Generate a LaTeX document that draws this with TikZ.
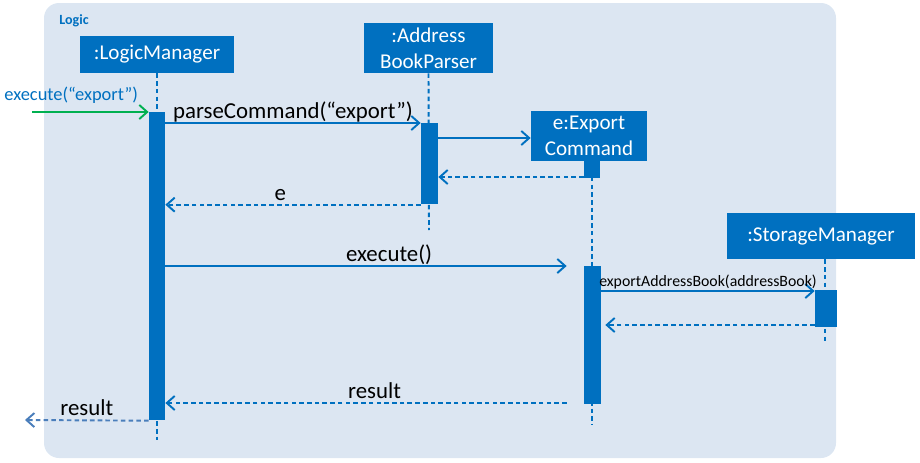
\documentclass[tikz,border=0pt]{standalone}
\usepackage{fontspec}
\setmainfont{Carlito}
\usetikzlibrary{arrows.meta}
\definecolor{umlblue}{HTML}{0070C0}
\definecolor{panel}{HTML}{DCE6F2}
\definecolor{foundgreen}{HTML}{00B050}
\definecolor{outblue}{HTML}{4A7EBB}
\def\upx{0.02cm}% one pixel of the reference
\tikzset{
	obj/.style={fill=umlblue,text=white,inner sep=0pt,align=center,font=\fontsize{12}{15}\selectfont},
	actbar/.style={fill=umlblue,inner sep=0pt,anchor=north},
	life/.style={umlblue,line width=1.1pt,dash pattern=on 2.6pt off 1.8pt},
	call/.style={umlblue,line width=1.1pt,-{Straight Barb[length=4.5pt,width=8pt]}},
	ret/.style={call,dash pattern=on 2.6pt off 1.8pt},
	msg/.style={midway,anchor=base,yshift=2.6pt,inner sep=0pt,text=black,font=\fontsize{13}{15}\selectfont}
}
\begin{document}
\begin{tikzpicture}[x=\upx,y=-\upx]
	\useasboundingbox (0,0) rectangle (920,463);
	\fill[panel,rounded corners=15*\upx] (44,3) rectangle (836,458);
	\node[anchor=west,inner sep=0pt,text=umlblue,font=\bfseries\fontsize{8}{10}\selectfont] (frameLbl) at (59,21) {Logic};
	% objects
	\node[obj,minimum width=154*\upx,minimum height=37*\upx] (lm) at (157,54.5) {:LogicManager};
	\node[obj,minimum width=129*\upx,minimum height=50*\upx] (bp) at (428.5,48) {:Address\\BookParser};
	\node[obj,minimum width=116*\upx,minimum height=50*\upx] (ec) at (589,136) {e:Export\\Command};
	\node[obj,minimum width=188*\upx,minimum height=46*\upx] (sm) at (821,236) {:StorageManager};
	% lifelines
	\coordinate (lmEnd) at (157,440);
	\coordinate (bpEnd) at (429,230);
	\coordinate (ecEnd) at (592,425);
	\coordinate (smEnd) at (825,343);
	\draw[life] (lm.south) -- (lmEnd);
	\draw[life] (bp.south) -- (bpEnd);
	\draw[life] (ec.south -| ecEnd) -- (ecEnd);
	\draw[life] (sm.south -| smEnd) -- (smEnd);
	% activations
	\node[actbar,minimum width=16*\upx,minimum height=308*\upx] (lmAct) at (157,112) {};
	\node[actbar,minimum width=17*\upx,minimum height=81*\upx] (bpAct) at (429.5,123) {};
	\node[actbar,minimum width=16*\upx,minimum height=17*\upx] (ecNew) at (592,161) {};
	\node[actbar,minimum width=17*\upx,minimum height=138*\upx] (ecAct) at (592.5,266) {};
	\node[actbar,minimum width=22*\upx,minimum height=37*\upx] (smAct) at (826,290) {};
	% messages
	\coordinate (extIn) at (32,112);
	\coordinate (extOut) at (25,420);
	\draw[call,foundgreen] (extIn) -- (lmAct.north west);
	\node[anchor=base west,inner sep=0pt,text=umlblue,font=\fontsize{10.5}{12}\selectfont] (inLbl) at (4,100) {execute(“export”)};
	\draw[call] (lmAct.east |- 0,123) -- (bpAct.north west) node[msg] {parseCommand(“export”)};
	\draw[call] (bpAct.east |- 0,138) -- (ec.west |- 0,138);
	\draw[ret] (ecNew.west |- 0,177) -- (bpAct.east |- 0,177);
	\draw[ret] (bpAct.south west) -- (lmAct.east |- bpAct.south) node[msg,pos=0.55] {e};
	\draw[call,shorten >=17*\upx] (lmAct.east |- 0,266) -- (ecAct.north west) node[msg,pos=0.535] {execute()};
	\draw[call] (ecAct.east |- 0,291) -- (smAct.west |- 0,291) node[msg,font=\fontsize{9}{11}\selectfont] {exportAddressBook(addressBook)};
	\draw[ret,shorten >=4*\upx] (smAct.west |- 0,325) -- (ecAct.east |- 0,325);
	\draw[ret,shorten <=17*\upx] (ecAct.west |- 0,403) -- (lmAct.east |- 0,403) node[msg,pos=0.5] {result};
	\draw[ret,outblue] (lmAct.south west) -- (extOut) node[msg] {result};
\end{tikzpicture}
\end{document}
